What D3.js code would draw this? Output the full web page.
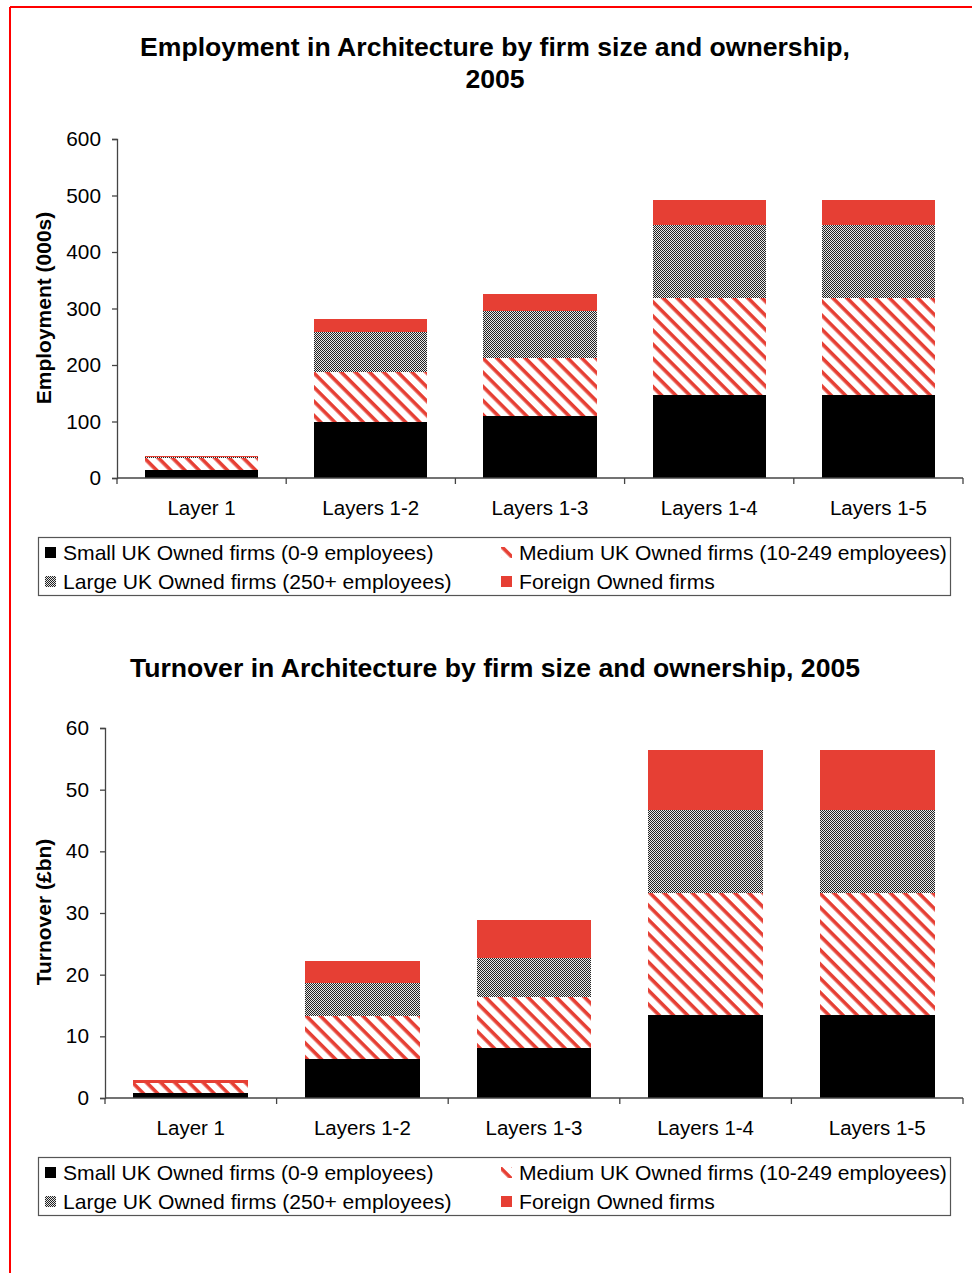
<!DOCTYPE html>
<html>
<head>
<meta charset="utf-8">
<script src="https://cdn.jsdelivr.net/npm/d3@7"></script>
<style>
  html, body { margin: 0; padding: 0; background: #fff; }
  svg { display: block; font-family: "Liberation Sans", Arial, sans-serif; }
</style>
</head>
<body>
<svg id="page" width="972" height="1273"></svg>
<script>
// Categories (cumulative layers of the architecture sector)
const categories = ["Layer 1", "Layers 1-2", "Layers 1-3", "Layers 1-4", "Layers 1-5"];

// Series names, in stacking order (bottom to top)
const seriesKeys = ["small", "medium", "large", "foreign"];
const seriesNames = [
  "Small UK Owned firms (0-9 employees)",
  "Medium UK Owned firms (10-249 employees)",
  "Large UK Owned firms (250+ employees)",
  "Foreign Owned firms"
];

// Employment (000s)
const empSmall   = [14, 100, 110, 147, 147];
const empMedium  = [21,  88, 103, 172, 172];
const empLarge   = [ 2,  71,  83, 128, 128];
const empForeign = [ 2,  22,  30,  45,  45];
const empTicks   = [0, 100, 200, 300, 400, 500, 600];

// Turnover (£bn)
const turnSmall   = [0.8, 6.3, 8.15, 13.4, 13.4];
const turnMedium  = [1.6, 7.0, 8.25, 19.8, 19.8];
const turnLarge   = [0.1, 5.3, 6.3,  13.5, 13.5];
const turnForeign = [0.4, 3.6, 6.15,  9.7,  9.7];
const turnTicks   = [0, 10, 20, 30, 40, 50, 60];

const svg = d3.select("#page");
const RED = "#e63f34";
const AXIS = "#444";

// ---- fill patterns ----
const defs = svg.append("defs");
const stripes = defs.append("pattern")
  .attr("id", "stripes")
  .attr("patternUnits", "userSpaceOnUse")
  .attr("width", 10).attr("height", 10)
  .attr("patternTransform", "rotate(45)");
stripes.append("rect").attr("width", 10).attr("height", 10).attr("fill", "#fff");
stripes.append("rect").attr("width", 10).attr("height", 3.6).attr("fill", RED);

const checker = defs.append("pattern")
  .attr("id", "checker")
  .attr("patternUnits", "userSpaceOnUse")
  .attr("width", 2).attr("height", 2);
checker.append("rect").attr("width", 2).attr("height", 2).attr("fill", "#e8e8e8");
checker.append("rect").attr("width", 1).attr("height", 1).attr("fill", "#222");
checker.append("rect").attr("x", 1).attr("y", 1).attr("width", 1).attr("height", 1).attr("fill", "#222");

const fills = { small: "#000", medium: "url(#stripes)", large: "url(#checker)", foreign: RED };

// ---- page frame ----
svg.append("line").attr("x1", 10).attr("y1", 7).attr("x2", 972).attr("y2", 7)
  .attr("stroke", "#ff0000").attr("stroke-width", 2);
svg.append("line").attr("x1", 10).attr("y1", 7).attr("x2", 10).attr("y2", 1273)
  .attr("stroke", "#ff0000").attr("stroke-width", 2);

function drawChart(opt) {
  const rows = categories.map((c, i) => {
    const r = { cat: c };
    seriesKeys.forEach((k, j) => { r[k] = opt.values[j][i]; });
    return r;
  });
  const stacked = d3.stack().keys(seriesKeys)(rows);

  const x = d3.scaleBand().domain(categories).range([opt.left, opt.right]).padding(0);
  const y = d3.scaleLinear().domain([0, d3.max(opt.ticks)]).range([opt.bottom, opt.top]);
  const bw = x.bandwidth();

  const g = svg.append("g");

  // titles
  opt.title.forEach((t, i) => {
    g.append("text")
      .attr("x", 495).attr("y", opt.titleY + i * 32)
      .attr("text-anchor", "middle")
      .attr("font-size", 26.6).attr("font-weight", "bold")
      .text(t);
  });

  // stacked bars
  g.selectAll("g.series").data(stacked).join("g")
    .attr("class", "series")
    .attr("fill", d => fills[d.key])
    .selectAll("rect").data(d => d).join("rect")
      .attr("x", d => x(d.data.cat) + bw * 0.165)
      .attr("width", bw * 0.67)
      .attr("y", d => y(d[1]))
      .attr("height", d => y(d[0]) - y(d[1]))
      .attr("shape-rendering", "crispEdges");

  // y axis
  const yAxis = d3.axisLeft(y).tickValues(opt.ticks).tickSize(5).tickPadding(11);
  const ya = g.append("g").attr("transform", `translate(${opt.left},0)`).call(yAxis);
  ya.select(".domain").attr("stroke", AXIS).attr("stroke-width", 1.3);
  ya.selectAll(".tick line").attr("stroke", AXIS).attr("stroke-width", 1.3);
  ya.selectAll(".tick text").attr("font-size", 20.8).attr("fill", "#000")
    .attr("font-family", "Liberation Sans, Arial, sans-serif");

  // x axis: baseline with ticks at category boundaries
  g.append("line")
    .attr("x1", opt.left).attr("x2", opt.right)
    .attr("y1", y(0)).attr("y2", y(0))
    .attr("stroke", AXIS).attr("stroke-width", 1.3);
  const bounds = categories.map(c => x(c)).concat([x(categories[categories.length - 1]) + bw]);
  g.selectAll("line.xt").data(bounds).join("line")
    .attr("class", "xt")
    .attr("x1", d => d).attr("x2", d => d)
    .attr("y1", y(0)).attr("y2", y(0) + 6)
    .attr("stroke", AXIS).attr("stroke-width", 1.3);
  g.selectAll("text.xl").data(categories).join("text")
    .attr("class", "xl")
    .attr("x", d => x(d) + bw / 2)
    .attr("y", y(0) + 37)
    .attr("text-anchor", "middle")
    .attr("font-size", 20.5)
    .text(d => d);

  // y axis title
  g.append("text")
    .attr("transform", `translate(51,${opt.yLabelY}) rotate(-90)`)
    .attr("text-anchor", "middle")
    .attr("font-size", 21).attr("font-weight", "bold")
    .text(opt.yLabel);

  // legend
  const lg = g.append("g");
  lg.append("rect")
    .attr("x", 38.5).attr("y", opt.legendY + 0.5)
    .attr("width", 912).attr("height", 58)
    .attr("fill", "none").attr("stroke", "#555").attr("stroke-width", 1.2);
  const legendPos = [
    { x: 45, row: 0 }, { x: 501, row: 0 },
    { x: 45, row: 1 }, { x: 501, row: 1 }
  ];
  seriesKeys.forEach((k, j) => {
    const p = legendPos[j];
    const cy = opt.legendY + 15 + p.row * 29;
    lg.append("rect")
      .attr("x", p.x).attr("y", cy - 5.5)
      .attr("width", 11).attr("height", 11)
      .attr("fill", fills[k])
      .attr("shape-rendering", "crispEdges");
    lg.append("text")
      .attr("x", p.x + 18).attr("y", cy + 7.5)
      .attr("font-size", 21.1)
      .text(seriesNames[j]);
  });
}

drawChart({
  title: ["Employment in Architecture by firm size and ownership,", "2005"],
  titleY: 56,
  values: [empSmall, empMedium, empLarge, empForeign],
  ticks: empTicks,
  left: 117, right: 963, top: 139, bottom: 478,
  yLabel: "Employment (000s)", yLabelY: 308,
  legendY: 537
});

drawChart({
  title: ["Turnover in Architecture by firm size and ownership, 2005"],
  titleY: 677,
  values: [turnSmall, turnMedium, turnLarge, turnForeign],
  ticks: turnTicks,
  left: 105, right: 963, top: 728, bottom: 1098,
  yLabel: "Turnover (£bn)", yLabelY: 912,
  legendY: 1157
});
</script>
</body>
</html>
